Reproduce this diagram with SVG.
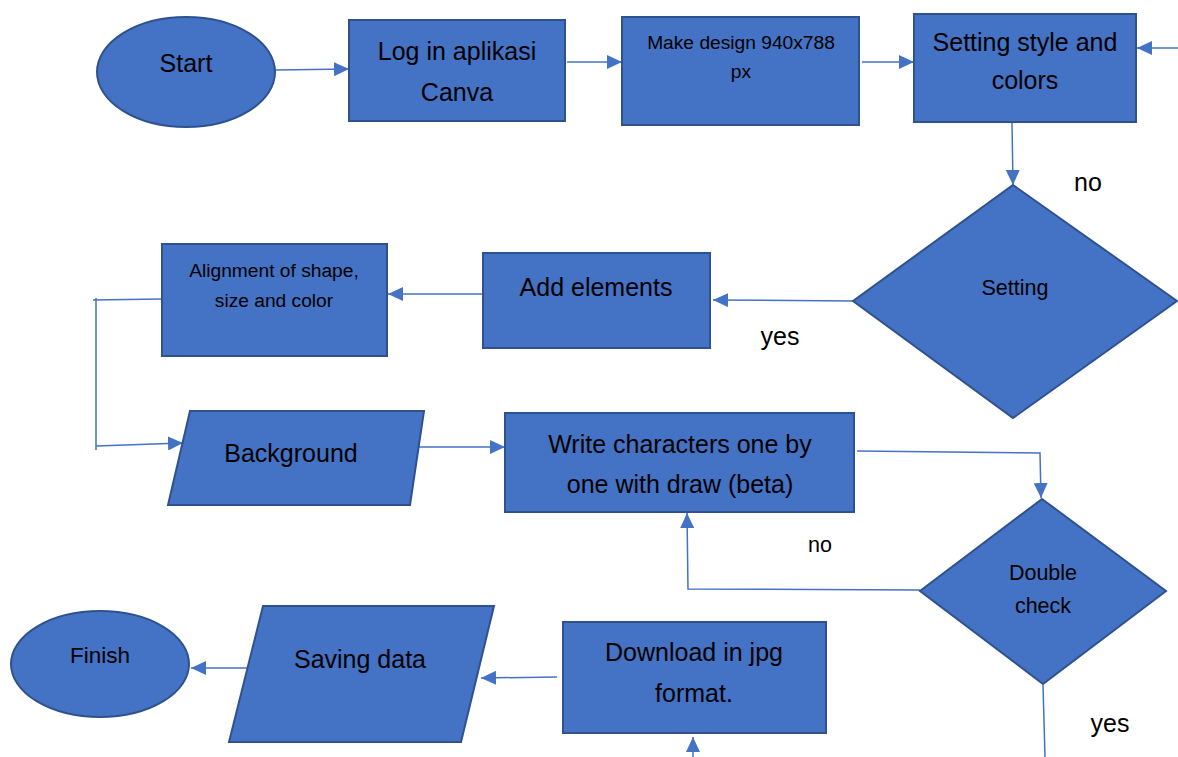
<svg xmlns="http://www.w3.org/2000/svg" width="1178" height="757" viewBox="0 0 1178 757">
<style>
.n{fill:#4472C4;stroke:#2F528F;stroke-width:2}
.t{font-family:"Liberation Sans",Arial,sans-serif;fill:#000;text-anchor:middle}
.big{font-size:25px}
.mid{font-size:21.5px}
.sm{font-size:19.2px}
.c{fill:none;stroke:#4472C4;stroke-width:1.5}
</style>
<defs>
<marker id="ah" markerUnits="userSpaceOnUse" markerWidth="16" markerHeight="14" refX="15" refY="7" orient="auto">
<path d="M0,0 L15,7 L0,14 Z" fill="#4472C4"/>
</marker>
</defs>
<rect width="1178" height="757" fill="#fff"/>
<g id="connectors">
<path class="c" d="M275,70 L349,69" marker-end="url(#ah)"/>
<path class="c" d="M567,62 L622,62" marker-end="url(#ah)"/>
<path class="c" d="M862,62 L914,62" marker-end="url(#ah)"/>
<path class="c" d="M1178,48 L1137,48" marker-end="url(#ah)"/>
<path class="c" d="M1012,123 L1013,185" marker-end="url(#ah)"/>
<path class="c" d="M853,301 L713,300" marker-end="url(#ah)"/>
<path class="c" d="M483,294 L388,294" marker-end="url(#ah)"/>
<path class="c" d="M162,299 L93,300 M96,298 L96,450 M96,446 L183,443" marker-end="url(#ah)"/>
<path class="c" d="M417,447 L505,447" marker-end="url(#ah)"/>
<path class="c" d="M857,451 L1040,453 L1041,498" marker-end="url(#ah)"/>
<path class="c" d="M920,590 L688,589 L687,513" marker-end="url(#ah)"/>
<path class="c" d="M1043,685 L1045,757"/>
<path class="c" d="M693,757 L693,737" marker-end="url(#ah)"/>
<path class="c" d="M557,677 L481,678" marker-end="url(#ah)"/>
<path class="c" d="M247,668 L191,668" marker-end="url(#ah)"/>
</g>
<g id="start">
<ellipse class="n" cx="186" cy="72" rx="89" ry="55"/>
<text class="t big" x="186" y="72">Start</text>
</g>
<g id="login">
<rect class="n" x="349" y="20" width="216" height="101"/>
<text class="t big" x="457" y="60">Log in aplikasi</text>
<text class="t big" x="457" y="101">Canva</text>
</g>
<g id="makedesign">
<rect class="n" x="622" y="17" width="237" height="108"/>
<text class="t sm" x="741" y="49">Make design 940x788</text>
<text class="t sm" x="741" y="78">px</text>
</g>
<g id="settingstyle">
<rect class="n" x="914" y="14" width="222" height="108"/>
<text class="t big" x="1025" y="51">Setting style and</text>
<text class="t big" x="1025" y="89">colors</text>
</g>
<g id="setting">
<polygon class="n" points="1013,185 1177,301 1013,418 853,301"/>
<text class="t mid" x="1015" y="295">Setting</text>
</g>
<g id="addelements">
<rect class="n" x="483" y="253" width="227" height="95"/>
<text class="t big" x="596" y="296">Add elements</text>
</g>
<g id="alignment">
<rect class="n" x="162" y="244" width="225" height="112"/>
<text class="t sm" x="274" y="277">Alignment of shape,</text>
<text class="t sm" x="274" y="307">size and color</text>
</g>
<g id="background">
<polygon class="n" points="190,411 424,411 410,505 168,505"/>
<text class="t big" x="291" y="462">Background</text>
</g>
<g id="write">
<rect class="n" x="505" y="413" width="349" height="99"/>
<text class="t big" x="680" y="453">Write characters one by</text>
<text class="t big" x="680" y="493">one with draw (beta)</text>
</g>
<g id="doublecheck">
<polygon class="n" points="1042,499 1166,591 1043,684 920,591"/>
<text class="t mid" x="1043" y="580">Double</text>
<text class="t mid" x="1043" y="613">check</text>
</g>
<g id="download">
<rect class="n" x="563" y="622" width="263" height="111"/>
<text class="t big" x="694" y="661">Download in jpg</text>
<text class="t big" x="694" y="702">format.</text>
</g>
<g id="saving">
<polygon class="n" points="263,606 494,606 461,742 229,742"/>
<text class="t big" x="360" y="668">Saving data</text>
</g>
<g id="finish">
<ellipse class="n" cx="100" cy="664" rx="89" ry="53"/>
<text class="t" style="font-size:22.5px" x="100" y="663">Finish</text>
</g>
<g id="labels">
<text class="t big" x="1088" y="191">no</text>
<text class="t big" x="780" y="345">yes</text>
<text class="t mid" x="820" y="552">no</text>
<text class="t big" x="1110" y="732">yes</text>
</g>
</svg>
